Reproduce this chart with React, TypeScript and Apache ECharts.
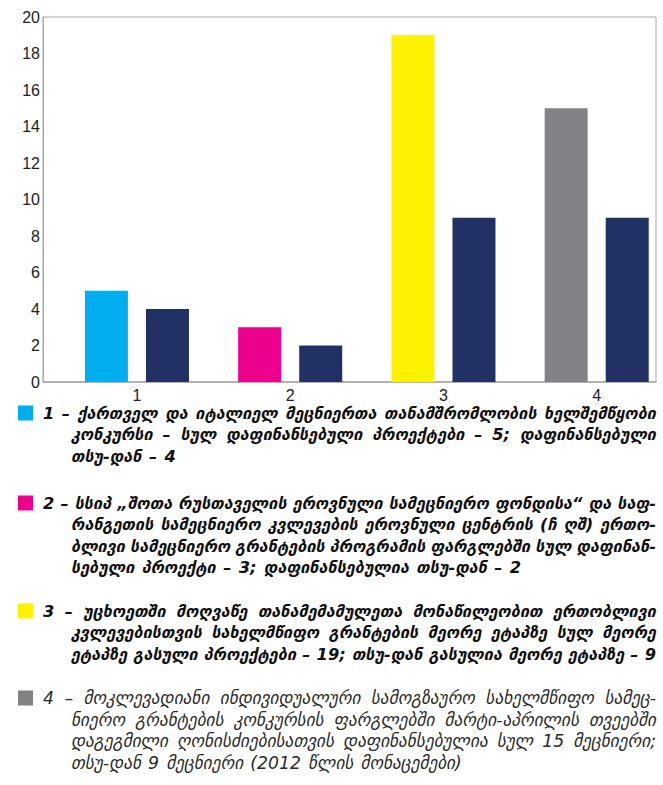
import React, { useEffect, useRef } from "react";
import * as echarts from "echarts";

const categories = [1, 2, 3, 4];
const totalValues = [5, 3, 19, 15];
const tsuValues = [4, 2, 9, 9];
const totalColors = ["#00AEEF", "#EC008C", "#FFF200", "#808285"];
const tsuColor = "#223163";
const yTicks = { min: 0, max: 20, interval: 2 };

const legendParagraphs: string[][] = [
  [
    "1 – ქართველ და იტალიელ მეცნიერთა თანამშრომლობის ხელშემწყობი",
    "კონკურსი – სულ დაფინანსებული პროექტები – 5; დაფინანსებული",
    "თსუ-დან – 4",
  ],
  [
    "2 – სსიპ „შოთა რუსთაველის ეროვნული სამეცნიერო ფონდისა“ და საფ-",
    "რანგეთის სამეცნიერო კვლევების ეროვნული ცენტრის (ჩ ღშ) ერთო-",
    "ბლივი სამეცნიერო გრანტების პროგრამის ფარგლებში სულ დაფინან-",
    "სებული პროექტი – 3; დაფინანსებულია თსუ-დან – 2",
  ],
  [
    "3 – უცხოეთში მოღვაწე თანამემამულეთა მონაწილეობით ერთობლივი",
    "კვლევებისთვის სახელმწიფო გრანტების მეორე ეტაპზე სულ მეორე",
    "ეტაპზე გასული პროექტები – 19; თსუ-დან გასულია მეორე ეტაპზე – 9",
  ],
  [
    "4 – მოკლევადიანი ინდივიდუალური სამოგზაურო სახელმწიფო სამეც-",
    "ნიერო გრანტების კონკურსის ფარგლებში მარტი-აპრილის თვეებში",
    "დაგეგმილი ღონისძიებისათვის დაფინანსებულია სულ 15 მეცნიერი;",
    "თსუ-დან 9 მეცნიერი (2012 წლის მონაცემები)",
  ],
];
const legendBold = [true, true, true, false];

export default function App() {
  const ref = useRef<HTMLDivElement>(null);

  useEffect(() => {
    if (!ref.current) return;
    const chart = echarts.init(ref.current, null, { renderer: "svg", width: 663, height: 785 });

    const family = '"DejaVu Sans"';
    const fontStr = (bold: boolean, fs: number) =>
      `italic ${bold ? "bold" : "normal"} ${fs}px ${family}`;

    // measure with an SVG text node so widths match the SVG renderer
    const svgNS = "http://www.w3.org/2000/svg";
    const svg = document.createElementNS(svgNS, "svg") as SVGSVGElement;
    svg.setAttribute("width", "10");
    svg.setAttribute("height", "10");
    svg.style.position = "absolute";
    svg.style.left = "-1000px";
    svg.style.top = "0px";
    svg.style.visibility = "hidden";
    document.body.appendChild(svg);
    const tn = document.createElementNS(svgNS, "text") as SVGTextElement;
    svg.appendChild(tn);
    const cache = new Map<string, number>();
    const measure = (t: string, bold: boolean, fs: number) => {
      const key = `${bold}|${fs}|${t}`;
      const c = cache.get(key);
      if (c !== undefined) return c;
      tn.setAttribute("style", `font: ${fontStr(bold, fs)}; white-space: pre`);
      tn.textContent = t;
      const w = tn.getComputedTextLength();
      cache.set(key, w);
      return w;
    };

    const firstX = 43;
    const contX = 71;
    const rightX = 656;
    const lineStarts = [413, 503, 611, 698];
    const lineH = 21.5;
    const minGap = 5;

    const sizes = legendParagraphs.map((lines, pi) => {
      let fs = 19;
      for (; fs > 10; fs -= 0.25) {
        const ok = lines.every((ln, li) => {
          const words = ln.split(" ");
          const w =
            words.reduce((s, x) => s + measure(x, legendBold[pi], fs), 0) +
            (words.length - 1) * minGap;
          const x0 = li === 0 ? firstX : contX;
          return w <= rightX - x0;
        });
        if (ok) break;
      }
      return fs;
    });
    const boldSize = Math.min(...sizes.filter((_, i) => legendBold[i]));
    const regSize = Math.min(boldSize + 1, ...sizes.filter((_, i) => !legendBold[i]));

    const graphics: any[] = [];
    legendParagraphs.forEach((lines, pi) => {
      const bold = legendBold[pi];
      const fs = bold ? boldSize : regSize;
      const color = bold ? "#111111" : "#2a2a2a";
      const y0 = lineStarts[pi];
      graphics.push({
        type: "rect",
        shape: { x: 18, y: y0 - 7.5, width: 15, height: 15 },
        style: { fill: totalColors[pi] },
      });
      lines.forEach((ln, li) => {
        const words = ln.split(" ");
        const widths = words.map((w) => measure(w, bold, fs));
        const x0 = li === 0 ? firstX : contX;
        const isLast = li === lines.length - 1;
        const sum = widths.reduce((a, b) => a + b, 0);
        const natGap = measure(" ", bold, fs) * 1.3;
        const avail = rightX - x0;
        const justify =
          words.length > 1 &&
          (!isLast || sum + natGap * (words.length - 1) > avail * 0.9);
        const gap = justify ? (avail - sum) / (words.length - 1) : natGap;
        let x = x0;
        words.forEach((w, wi) => {
          const lastWord = justify && wi === words.length - 1;
          graphics.push({
            type: "text",
            x: lastWord ? rightX : x,
            y: y0 + li * lineH,
            style: {
              text: w,
              fill: color,
              fontFamily: family,
              fontStyle: "italic",
              fontWeight: bold ? "bold" : "normal",
              fontSize: fs,
              lineHeight: Math.round(fs * 0.95),
              verticalAlign: "middle",
              align: lastWord ? "right" : "left",
            },
          });
          x += widths[wi] + gap;
        });
      });
    });
    document.body.removeChild(svg);

    chart.setOption({
      animation: false,
      backgroundColor: "#ffffff",
      grid: {
        left: 43,
        top: 17,
        width: 613,
        height: 365,
        show: true,
        borderColor: "#a8a8a8",
        borderWidth: 1,
        containLabel: false,
      },
      xAxis: {
        type: "value",
        min: 0.387,
        max: 4.387,
        splitLine: { show: false },
        axisTick: { show: false },
        axisLine: { show: true, lineStyle: { color: "#a8a8a8", width: 1.5 } },
        axisLabel: {
          customValues: categories,
          formatter: (v: number) => String(v),
          fontSize: 16,
          lineHeight: 16,
          fontFamily: "Liberation Sans",
          color: "#222222",
          margin: 5,
        },
      },
      yAxis: {
        type: "value",
        min: yTicks.min,
        max: yTicks.max,
        interval: yTicks.interval,
        splitLine: { show: false },
        axisTick: { show: false },
        axisLine: { show: true, lineStyle: { color: "#a8a8a8", width: 1 } },
        axisLabel: {
          fontSize: 16,
          fontFamily: "Liberation Sans",
          color: "#222222",
          margin: 3,
        },
      },
      series: [
        {
          type: "bar",
          barWidth: 43,
          barGap: "42%",
          data: categories.map((c, i) => ({
            value: [c, totalValues[i]],
            itemStyle: { color: totalColors[i] },
          })),
        },
        {
          type: "bar",
          barWidth: 43,
          barGap: "42%",
          itemStyle: { color: tsuColor },
          data: categories.map((c, i) => [c, tsuValues[i]]),
        },
      ],
      graphic: graphics,
    });

    return () => chart.dispose();
  }, []);

  return (
    <div
      ref={ref}
      style={{ position: "absolute", left: 0, top: 0, width: 663, height: 785 }}
    />
  );
}
